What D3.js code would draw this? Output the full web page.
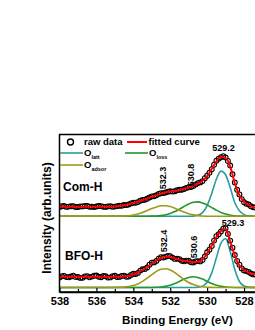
<!DOCTYPE html>
<html>
<head>
<meta charset="utf-8">
<script src="https://cdn.jsdelivr.net/npm/d3@7"></script>
<style>
body { margin: 0; background: #fff; }
text { font-family: "Liberation Sans", Arial, sans-serif; font-weight: bold; fill: #000; }
</style>
</head>
<body>
<svg id="chart" width="255" height="330"></svg>
<script>
// binding energy grid of the fitted curves (eV)
var energy = [538.0,537.75,537.5,537.25,537.0,536.75,536.5,536.25,536.0,535.75,535.5,535.25,
  535.0,534.75,534.5,534.25,534.0,533.75,533.5,533.25,533.0,532.75,532.5,532.25,
  532.0,531.75,531.5,531.25,531.0,530.75,530.5,530.25,530.0,529.75,529.5,529.25,
  529.0,528.75,528.5,528.25,528.0,527.75,527.5,527.25];

// binding energy of the measured points (eV)
var rawEnergy = [538.0,537.875,537.75,537.625,537.5,537.375,537.25,537.125,537.0,536.875,
  536.75,536.625,536.5,536.375,536.25,536.125,536.0,535.875,535.75,535.625,
  535.5,535.375,535.25,535.125,535.0,534.875,534.75,534.625,534.5,534.375,
  534.25,534.125,534.0,533.875,533.75,533.625,533.5,533.375,533.25,533.125,
  533.0,532.875,532.75,532.625,532.5,532.375,532.25,532.125,532.0,531.875,
  531.75,531.625,531.5,531.375,531.25,531.125,531.0,530.875,530.75,530.625,
  530.5,530.375,530.25,530.125,530.0,529.875,529.75,529.625,529.5,529.375,
  529.25,529.125,529.0,528.875,528.75,528.625,528.5,528.375,528.25,528.125,
  528.0,527.875,527.75,527.625,527.5,527.375,527.25];

// Com-H (arb. units above its own baseline)
var comRaw = [9.2,10.1,10.3,9.4,9.7,10.0,10.1,9.3,9.3,9.9,
  9.9,10.4,10.4,9.6,9.5,9.2,9.8,10.3,10.2,9.6,
  9.4,9.9,10.0,9.5,9.7,10.2,10.6,10.5,11.3,11.2,
  11.8,12.9,13.6,13.6,14.2,15.5,16.4,16.6,17.5,18.9,
  19.9,20.1,21.0,22.4,23.1,23.2,23.8,24.6,25.0,24.7,
  25.1,26.0,26.5,26.6,27.3,28.4,29.1,29.3,30.3,31.9,
  33.2,33.9,35.2,38.1,40.6,43.5,47.1,51.6,55.6,57.6,
  59.1,60.2,58.9,55.4,50.8,42.0,33.8,26.5,21.9,17.2,
  14.0,12.5,11.8,10.0,9.0,8.9,8.6];
var comFit = [9.6,9.6,9.6,9.6,9.6,9.6,9.6,9.6,9.6,9.6,9.6,9.6,
  9.7,10.2,11,12,13.2,14.5,16,17.7,19.5,21.2,22.7,24,
  24.7,25.3,26.2,27.5,28.8,30.5,32.8,35.5,40,47.5,55,59.5,
  58.5,50,33,21,14.5,11.3,9.2,8.3];
var comLatt = [0,0,0,0,0,0,0,0,0,0,0,0,
  0,0,0,0,0,0,0,0,0,0,0,0,
  0,0,0,0,0,0.2,1.0,3.7,10.7,22.9,37.1,45.2,
  41.6,28.8,13.5,5.5,1.7,0.4,0.1,0];
var comLoss = [0,0,0,0,0,0,0,0,0,0,0,0,
  0,0,0,0,0,0,0,0.05,0.13,0.3,0.7,1.5,
  2.8,4.7,7.1,9.8,12.3,14.0,14.4,13.4,11.4,8.7,6.1,3.8,
  2.2,1.1,0.5,0.2,0.1,0,0,0];
var comAdsor = [0,0,0,0,0,0,0,0,0,0,0,0,
  0.05,0.1,0.3,0.6,1.3,2.3,3.8,5.7,7.7,9.4,10.5,10.6,
  9.7,8.1,6.1,4.2,2.6,1.4,0.7,0.3,0.1,0.05,0,0,
  0,0,0,0,0,0,0,0];

// BFO-H
var bfoRaw = [10.0,11.3,11.6,10.4,10.2,11.0,11.9,10.6,10.5,9.6,
  9.8,11.1,11.4,10.2,10.9,11.8,12.0,10.7,10.3,11.5,
  11.2,9.9,10.1,11.4,11.7,10.4,10.6,11.6,11.9,10.8,
  11.0,12.6,13.8,13.4,14.6,16.9,18.2,18.4,20.0,22.8,
  24.9,25.1,26.6,28.9,30.3,30.0,30.8,31.6,31.4,29.9,
  28.6,28.9,28.3,26.8,26.2,26.9,26.7,25.3,25.0,26.1,
  26.4,26.1,27.6,31.0,35.2,37.8,41.6,46.9,51.3,53.2,
  56.0,58.9,59.2,53.6,46.9,39.8,32.5,26.6,22.8,19.1,
  17.0,16.4,15.6,14.0,13.1,13.0,13.4];
var bfoFit = [10.8,10.8,10.8,10.8,10.8,10.8,10.8,10.8,10.8,10.8,10.8,10.8,
  10.8,10.8,11.0,11.6,13,15,17.5,20.5,24,27,29.5,31,
  30.5,29,27.7,26.7,26,25.5,25.8,28,34.5,42,50.5,56.5,
  58.5,46,32,22,17.5,15,13.5,12.8];
var bfoLatt = [0,0,0,0,0,0,0,0,0,0,0,0,
  0,0,0,0,0,0,0,0,0,0,0,0,
  0,0,0,0,0,0,0.3,1.4,5.3,14.6,29.7,44.4,
  48.7,36,18,6,1.5,0.4,0.1,0];
var bfoLoss = [0,0,0,0,0,0,0,0,0,0,0,0,
  0,0,0,0,0,0,0,0,0.06,0.2,0.5,1.1,
  2.2,3.9,6.1,8.4,10.1,10.8,10.1,8.4,6.1,3.9,2.2,1.1,
  0.5,0.2,0.06,0,0,0,0,0];
var bfoAdsor = [0,0,0,0,0,0,0,0,0,0,0,0,
  0.06,0.2,0.4,1.0,2.0,3.6,6.1,9.3,12.8,16.1,18.2,18.8,
  17.5,14.8,11.4,7.9,5.0,2.9,1.5,0.7,0.3,0.1,0.04,0,
  0,0,0,0,0,0,0,0];

// peak positions marked on each spectrum (eV)
var comPeaks = [529.2, 530.8, 532.3];
var bfoPeaks = [529.3, 530.6, 532.4];

var xTicks = [538, 536, 534, 532, 530, 528];
var xMinor = [537, 535, 533, 531, 529];

var colLatt = "#2a9ca0", colLoss = "#22962a", colAdsor = "#9e9a14", colFit = "#ff0000";

var svg = d3.select("#chart");

var x = d3.scaleLinear().domain([538, 527]).range([59.5, 262.5]);
var y = d3.scaleLinear().domain([0, 160]).range([292, 132]);

// vertical stacking of the two spectra
var panels = [
  { name: "Com-H", shift: 75.7, raw: comRaw, fit: comFit, latt: comLatt, loss: comLoss, adsor: comAdsor, peaks: comPeaks },
  { name: "BFO-H", shift: 4.5, raw: bfoRaw, fit: bfoFit, latt: bfoLatt, loss: bfoLoss, adsor: bfoAdsor, peaks: bfoPeaks }
];

svg.append("clipPath").attr("id", "clip")
  .append("rect").attr("x", 59.5).attr("y", 134.5).attr("width", 203).attr("height", 157.5);

var plot = svg.append("g").attr("clip-path", "url(#clip)");

panels.forEach(function(p) {
  var line = d3.line()
    .x(function(d, i) { return x(energy[i]); })
    .y(function(d) { return y(d + p.shift); })
    .curve(d3.curveMonotoneX);

  [[p.latt, colLatt], [p.loss, colLoss], [p.adsor, colAdsor]].forEach(function(c) {
    plot.append("path")
      .attr("d", line(c[0]))
      .attr("fill", "none")
      .attr("stroke", c[1])
      .attr("stroke-width", 1.6);
  });

  plot.selectAll(null)
    .data(p.raw)
    .enter()
    .append("circle")
    .attr("cx", function(d, i) { return x(rawEnergy[i]); })
    .attr("cy", function(d) { return y(d + p.shift); })
    .attr("r", 2.4)
    .attr("fill", "none")
    .attr("stroke", "#000")
    .attr("stroke-width", 1.1);

  plot.append("path")
    .attr("d", line(p.fit))
    .attr("fill", "none")
    .attr("stroke", colFit)
    .attr("stroke-width", 2);
});

// frame
svg.append("rect")
  .attr("x", 59.5).attr("y", 134.5)
  .attr("width", 203).attr("height", 157.5)
  .attr("fill", "none")
  .attr("stroke", "#000")
  .attr("stroke-width", 1.5);

// x axis, ticks pointing inward
var gx = svg.append("g").attr("transform", "translate(0,292)")
  .call(d3.axisBottom(x).tickValues(xTicks).tickSize(-4).tickSizeOuter(0).tickPadding(5).tickFormat(d3.format("d")));
svg.append("g").attr("transform", "translate(0,292)")
  .call(d3.axisBottom(x).tickValues(xMinor).tickSize(-3).tickSizeOuter(0).tickFormat(""))
  .select(".domain").remove();
gx.select(".domain").attr("stroke-width", 1.5);
svg.selectAll(".tick line").attr("stroke-width", 1.2);
gx.selectAll(".tick text").attr("font-size", "11px").attr("font-family", null);

svg.append("text")
  .attr("x", 177.5).attr("y", 323.5)
  .attr("text-anchor", "middle")
  .attr("font-size", "11.6px")
  .text("Binding Energy (eV)");

svg.append("text")
  .attr("transform", "translate(47,218) rotate(-90)")
  .attr("text-anchor", "middle")
  .attr("dy", "0.35em")
  .attr("font-size", "12px")
  .text("Intensity (arb.units)");

// sample names
svg.append("text").attr("x", 63).attr("y", 191).attr("font-size", "12px").text("Com-H");
svg.append("text").attr("x", 65).attr("y", 259.5).attr("font-size", "12px").text("BFO-H");

// peak labels: first one horizontal above the main peak, the others vertical
var labelPos = [
  [[1.5, 150.5], [-1.5, 175], [-2, 178]],
  [[13, 225.5], [-2.5, 247], [0.5, 241]]
];
panels.forEach(function(p, k) {
  p.peaks.forEach(function(e, j) {
    var pos = labelPos[k][j];
    if (j === 0) {
      svg.append("text")
        .attr("x", x(e) + pos[0]).attr("y", pos[1])
        .attr("text-anchor", "middle")
        .attr("font-size", "9px")
        .text(e.toFixed(1));
    } else {
      svg.append("text")
        .attr("transform", "translate(" + (x(e) + pos[0]) + "," + pos[1] + ") rotate(-90)")
        .attr("text-anchor", "middle")
        .attr("dy", "0.35em")
        .attr("font-size", "9px")
        .text(e.toFixed(1));
    }
  });
});

// legend
var leg = svg.append("g");
leg.append("circle").attr("cx", 70.5).attr("cy", 142).attr("r", 3)
  .attr("fill", "none").attr("stroke", "#000").attr("stroke-width", 1.4);
leg.append("text").attr("x", 84).attr("y", 145.3).attr("font-size", "9.5px").text("raw data");
leg.append("line").attr("x1", 127).attr("x2", 147).attr("y1", 142).attr("y2", 142)
  .attr("stroke", colFit).attr("stroke-width", 2);
leg.append("text").attr("x", 148.5).attr("y", 145.3).attr("font-size", "9.5px").text("fitted curve");

var legItems = [
  { sub: "latt", color: colLatt, x: 60, y: 153 },
  { sub: "loss", color: colLoss, x: 125, y: 153 },
  { sub: "adsor", color: colAdsor, x: 60, y: 165 }
];
legItems.forEach(function(d) {
  leg.append("line").attr("x1", d.x).attr("x2", d.x + 23).attr("y1", d.y).attr("y2", d.y)
    .attr("stroke", d.color).attr("stroke-width", 1.6);
  var t = leg.append("text").attr("x", d.x + 24).attr("y", d.y + 3.3).attr("font-size", "9.5px");
  t.append("tspan").text("O");
  t.append("tspan").attr("dy", 3).attr("font-size", "5.5px").text(d.sub);
});
</script>
</body>
</html>
